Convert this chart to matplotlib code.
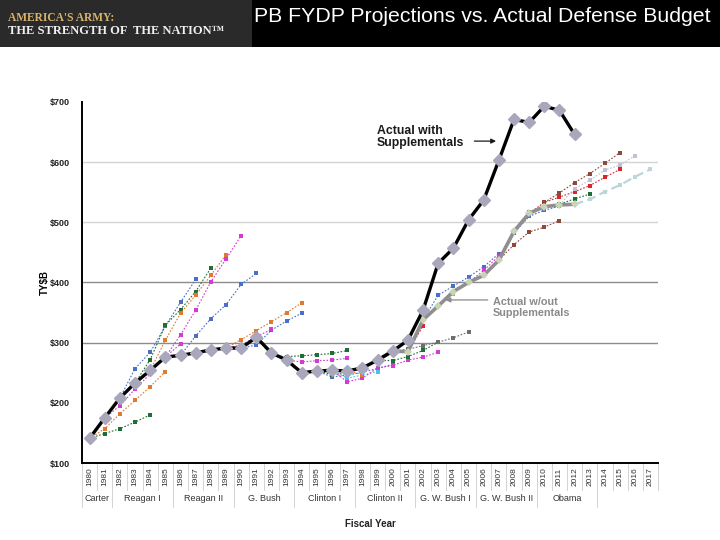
import matplotlib
matplotlib.use("Agg")
import matplotlib.pyplot as plt
import matplotlib.transforms as mtransforms
from matplotlib.patches import Rectangle

plt.rcParams['font.family'] = ['Liberation Sans', 'DejaVu Sans']

# ---------------- data ----------------
years = list(range(1980, 2018))
actual_years = list(range(1980, 2013))
actual_with_supp = [141, 175, 208, 233, 254, 276, 279, 283, 288, 291, 291, 309, 283, 271,
                    250, 253, 254, 253, 258, 271, 286, 304, 354, 432, 457, 504, 537, 603,
                    671, 666, 693, 686, 646]
wout_years = list(range(1999, 2013))
actual_wout_supp = [271, 286, 285, 338, 361, 385, 400, 412, 437, 485, 515, 526, 529, 530]

terms = ["Carter", "Reagan I", "Reagan II", "G. Bush", "Clinton I", "Clinton II",
         "G. W. Bush I", "G. W. Bush II", "Obama"]
term_starts = [1980, 1982, 1986, 1990, 1994, 1998, 2002, 2006, 2010]
term_ends = [1981, 1985, 1989, 1993, 1997, 2001, 2005, 2009, 2013]

BLUE = '#4a6fc9'
GREEN = '#1f6e35'
ORANGE = '#e07a30'
MAGENTA = '#d63ad6'
CYAN = '#3cc8e8'
RED = '#d9262b'
BROWN = '#8c4a3c'
GRAY = '#6e6e6e'
LAV = '#c5bfd4'
LCYAN = '#b9d7da'
LIME = '#3ddc5a'

# (colour, first year, values)
projections = [
    (GREEN, 1980, [141, 149, 157, 168, 180]),
    (ORANGE, 1980, [141, 157, 182, 204, 227, 252]),
    (MAGENTA, 1981, [175, 195, 223, 248]),
    (BLUE, 1982, [208, 257, 284, 328, 367, 405]),
    (GREEN, 1983, [233, 272, 329, 355, 385, 424]),
    (ORANGE, 1984, [254, 304, 349, 379, 412, 446]),
    (MAGENTA, 1985, [276, 313, 354, 401, 439, 478]),
    (MAGENTA, 1985, [276, 298]),
    (BLUE, 1986, [279, 311, 340, 363, 397, 415]),
    (ORANGE, 1989, [291, 305, 320, 335, 350, 366]),
    (BLUE, 1990, [291, 296, 321, 336, 349]),
    (MAGENTA, 1989, [291, 296, 310, 322]),
    (GREEN, 1991, [309, 278, 277, 278, 280, 282, 287]),
    (MAGENTA, 1993, [271, 268, 270, 271, 274]),
    (BLUE, 1995, [253, 243, 246, 251, 257, 264]),
    (GREEN, 1995, [253, 247, 249]),
    (CYAN, 1996, [254, 241, 246, 252]),
    (MAGENTA, 1996, [254, 235, 241, 258]),
    (ORANGE, 1997, [253, 247]),
    (MAGENTA, 1999, [258, 262, 271, 276, 284]),
    (GREEN, 1999, [271, 270, 277, 287, 301]),
    (GRAY, 2000, [286, 289, 295, 301, 308, 318]),
    (RED, 2001, [285, 328]),
    (BLUE, 2002, [338, 379, 394, 409, 426, 448]),
    (LIME, 2003, [361, 381]),
    (MAGENTA, 2005, [400, 420, 444]),
    (BLUE, 2007, [437, 482, 510, 520, 527]),
    (GREEN, 2008, [485, 517, 523, 530, 539, 547]),
    (BROWN, 2007, [437, 463, 484, 492, 503]),
    (RED, 2009, [515, 533, 542, 551, 561, 575, 588]),
    (BROWN, 2010, [533, 549, 566, 581, 598, 616]),
    (LAV, 2011, [529, 556, 570, 587, 595, 611]),
    (LCYAN, 2012, [530, 538, 551, 562, 576, 588]),
]

yticks = [100, 200, 300, 400, 500, 600, 700]
ytick_labels = ["$100", "$200", "$300", "$400", "$500", "$600", "$700"]

# ---------------- figure ----------------
fig = plt.figure(figsize=(7.2, 5.4), dpi=100)
fig.patch.set_facecolor('white')

# banner
fig.patches.append(Rectangle((0, 1 - 47 / 540), 1, 47 / 540, transform=fig.transFigure,
                             facecolor='black', edgecolor='none', zorder=0))
fig.patches.append(Rectangle((0, 1 - 47 / 540), 252 / 720, 47 / 540, transform=fig.transFigure,
                             facecolor='#2a2a2a', edgecolor='none', zorder=0))
fig.text(8 / 720, 1 - 18 / 540, "AMERICA'S ARMY:", color='#d8b36a', fontsize=8.3,
         family='Liberation Serif', weight='bold', va='center', ha='left')
fig.text(8 / 720, 1 - 31 / 540, "THE STRENGTH OF  THE NATION\u2122", color='#f0f0f0', fontsize=9.0,
         family='Liberation Serif', weight='bold', va='center', ha='left')
fig.text(482 / 720, 1 - 16 / 540, "PB FYDP Projections vs. Actual Defense Budget", color='white',
         fontsize=15.3, ha='center', va='center')

ax = fig.add_axes([82 / 720, 1 - 463 / 540, 576 / 720, 361 / 540])
ax.set_xlim(1979.5, 2017.5)
ax.set_ylim(100, 700)

for v in [300, 400]:
    ax.axhline(v, color='#8c8c8c', lw=1.0, zorder=1)
for v in [500, 600]:
    ax.axhline(v, color='#d4d4d4', lw=1.0, zorder=1)

for col, y0, vals in projections:
    xs = list(range(y0, y0 + len(vals)))
    ls = (0, (4, 2)) if col == LCYAN else (0, (1.5, 1.5))
    lw = 1.6 if col == LCYAN else 0.8
    ax.plot(xs, vals, color=col, lw=lw, linestyle=ls, marker='s', markersize=3.2,
            markeredgewidth=0, zorder=3)

ax.plot(wout_years, actual_wout_supp, color='#8f8f8f', lw=2.6, zorder=4, solid_capstyle='round')
ax.plot(wout_years, actual_wout_supp, color='#c9d3b6', lw=0, marker='D', markersize=4,
        markeredgewidth=0, zorder=4)

ax.plot(actual_years, actual_with_supp, color='black', lw=2.4, zorder=5,
        marker='D', markersize=6.2, markerfacecolor='#a9a7bb', markeredgecolor='#a9a7bb')

# annotations
ax.text(1998.95, 642, "Actual with\nSupplementals", fontsize=8.8, weight='bold', color='#1a1a1a',
        ha='left', va='center', linespacing=1.05)
ax.annotate("", xy=(2007.0, 635), xytext=(2005.2, 635),
            arrowprops=dict(arrowstyle='-|>', color='#1a1a1a', lw=0.9, mutation_scale=7))
ax.text(2006.6, 359, "Actual w/out\nSupplementals", fontsize=7.8, weight='bold', color='#8a8a8a',
        ha='left', va='center', linespacing=1.1)
ax.annotate("", xy=(2003.3, 371), xytext=(2006.45, 371),
            arrowprops=dict(arrowstyle='-|>', color='#8a8a8a', lw=0.9, mutation_scale=7))

# axes styling
for s in ['top', 'right']:
    ax.spines[s].set_visible(False)
ax.spines['left'].set_linewidth(1.4)
ax.spines['bottom'].set_linewidth(1.4)
ax.set_yticks(yticks)
ax.set_yticklabels(ytick_labels, fontsize=6.5, weight='bold', color='#222222')
ax.tick_params(axis='y', length=0, pad=9)
ax.set_xticks([])
ax.set_ylabel("TY$B", fontsize=7, weight='bold')
ax.yaxis.set_label_coords(-0.056, 0.5)

# table under axis
trans = mtransforms.blended_transform_factory(ax.transData, ax.transAxes)
row1 = -0.075
row2 = -0.122
for y in years:
    ax.text(y, row1 / 2, str(y), rotation=90, fontsize=6, ha='center', va='center',
            transform=trans, color='#333333')
for b in range(1980, 2018):
    ax.plot([b + 0.5, b + 0.5], [0, row1], color='#cccccc', lw=0.6, transform=trans, clip_on=False)
ax.plot([1979.5, 1979.5], [0, row2], color='#cccccc', lw=0.6, transform=trans, clip_on=False)
for nm, a, e in zip(terms, term_starts, term_ends):
    ax.text((a + e) / 2, (row1 + row2) / 2, nm, fontsize=6.5, ha='center', va='center',
            transform=trans, color='#333333')
    ax.plot([e + 0.5, e + 0.5], [row1, row2], color='#cccccc', lw=0.6, transform=trans, clip_on=False)

fig.text(370 / 720, 1 - 524 / 540, "Fiscal Year", fontsize=7, ha='center', va='center',
         color='#222222', weight='bold')

fig.savefig("out.png", dpi=100)
